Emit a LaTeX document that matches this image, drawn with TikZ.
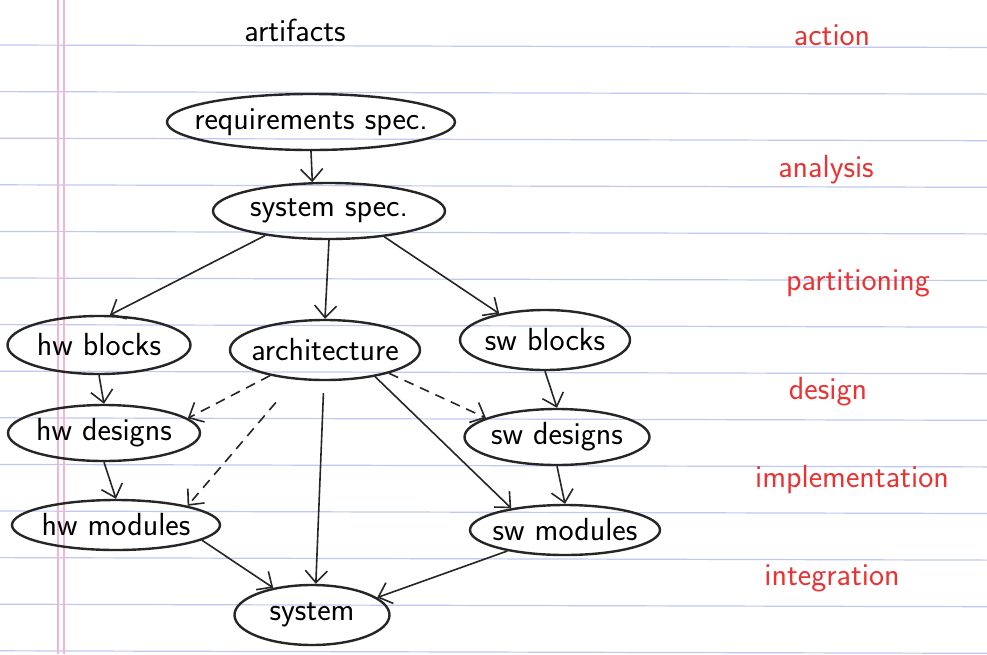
\documentclass[tikz,border=0pt]{standalone}
\usetikzlibrary{shapes.geometric,arrows.meta}
\definecolor{redpen}{RGB}{232,52,52}
\definecolor{ruling}{RGB}{192,200,242}
\definecolor{margin}{RGB}{245,180,208}

\begin{document}
\begin{tikzpicture}[x=1pt,y=-1pt,font=\fontsize{32}{36}\selectfont\sffamily,
  artifact/.style={ellipse,draw=black!85,line width=2.4pt,inner xsep=-30pt,inner ysep=0pt,minimum height=56pt},
  activity/.style={text=redpen},
  flow/.style={draw=black!85,line width=1.6pt,-{Straight Barb[length=12pt,width=22pt,line width=1.6pt]}},
  hint/.style={flow,dash pattern=on 10pt off 7pt}]
\useasboundingbox[fill=white] (0,0) rectangle (987,654);
\draw[ruling,line width=1.2pt] (0,45) -- (987,47.5);
\draw[ruling,line width=1.2pt] (0,91.6) -- (987,94.1);
\draw[ruling,line width=1.2pt] (0,138.2) -- (987,140.7);
\draw[ruling,line width=1.2pt] (0,184.8) -- (987,187.3);
\draw[ruling,line width=1.2pt] (0,231.4) -- (987,233.9);
\draw[ruling,line width=1.2pt] (0,278) -- (987,280.5);
\draw[ruling,line width=1.2pt] (0,324.6) -- (987,327.1);
\draw[ruling,line width=1.2pt] (0,371.2) -- (987,373.7);
\draw[ruling,line width=1.2pt] (0,417.8) -- (987,420.3);
\draw[ruling,line width=1.2pt] (0,464.4) -- (987,466.9);
\draw[ruling,line width=1.2pt] (0,511) -- (987,513.5);
\draw[ruling,line width=1.2pt] (0,557.6) -- (987,560.1);
\draw[ruling,line width=1.2pt] (0,604.2) -- (987,606.7);
\draw[ruling,line width=1.2pt] (0,650.8) -- (987,653.3);
\draw[margin,line width=1.2pt] (58,0) -- (58,654);
\draw[margin,line width=1.2pt] (64,0) -- (64,654);
\node (artifacts) at (295,30) {artifacts};
\node[artifact,minimum width=288pt] (req) at (311,122) {requirements spec.};
\node[artifact,minimum width=232pt] (sysspec) at (329,211) {system spec.};
\node[artifact,minimum width=183pt,minimum height=58pt] (hwblocks) at (99,345) {hw blocks};
\node[artifact,minimum width=190pt,minimum height=60pt] (arch) at (325,350) {architecture};
\node[artifact,minimum width=170pt,minimum height=60pt] (swblocks) at (545,340) {sw blocks};
\node[artifact,minimum width=192pt] (hwdesigns) at (104,433) {hw designs};
\node[artifact,minimum width=185pt] (swdesigns) at (557,437) {sw designs};
\node[artifact,minimum width=208pt,minimum height=50pt] (hwmodules) at (116,525) {hw modules};
\node[artifact,minimum width=190pt,minimum height=50pt] (swmodules) at (565,530) {sw modules};
\node[artifact,minimum width=155pt,minimum height=60pt] (system) at (312,615) {system};
\draw[flow] (req.south) -- (sysspec.120);
\draw[flow] (sysspec.201) -- (hwblocks.70);
\draw[flow] (sysspec.south) -- (arch.north);
\draw[flow] (sysspec.335) -- (swblocks.150);
\draw[flow] (hwblocks.south) -- (hwdesigns.north);
\draw[flow] (swblocks.south) -- (swdesigns.north);
\draw[flow] (hwdesigns.south) -- (hwmodules.north);
\draw[flow] (swdesigns.south) -- (swmodules.north);
\draw[hint] (arch.205) -- (hwdesigns.10);
\draw[hint,shorten <=30pt] (arch.225) -- (hwmodules.15);
\draw[hint] (arch.340) -- (swdesigns.165);
\draw[flow] (arch.332) -- (swmodules.158);
\draw[flow,shorten <=12pt] (arch.268) -- (system.83);
\draw[flow] (hwmodules.350) -- (system.145);
\draw[flow] (swmodules.200) -- (system.15);
\node[activity] (action) at (832,35) {action};
\node[activity] (analysis) at (826,170) {analysis};
\node[activity] (partitioning) at (858,283) {partitioning};
\node[activity] (design) at (828,392) {design};
\node[activity] (implementation) at (852,480) {implementation};
\node[activity] (integration) at (832,578) {integration};
\end{tikzpicture}
\end{document}
